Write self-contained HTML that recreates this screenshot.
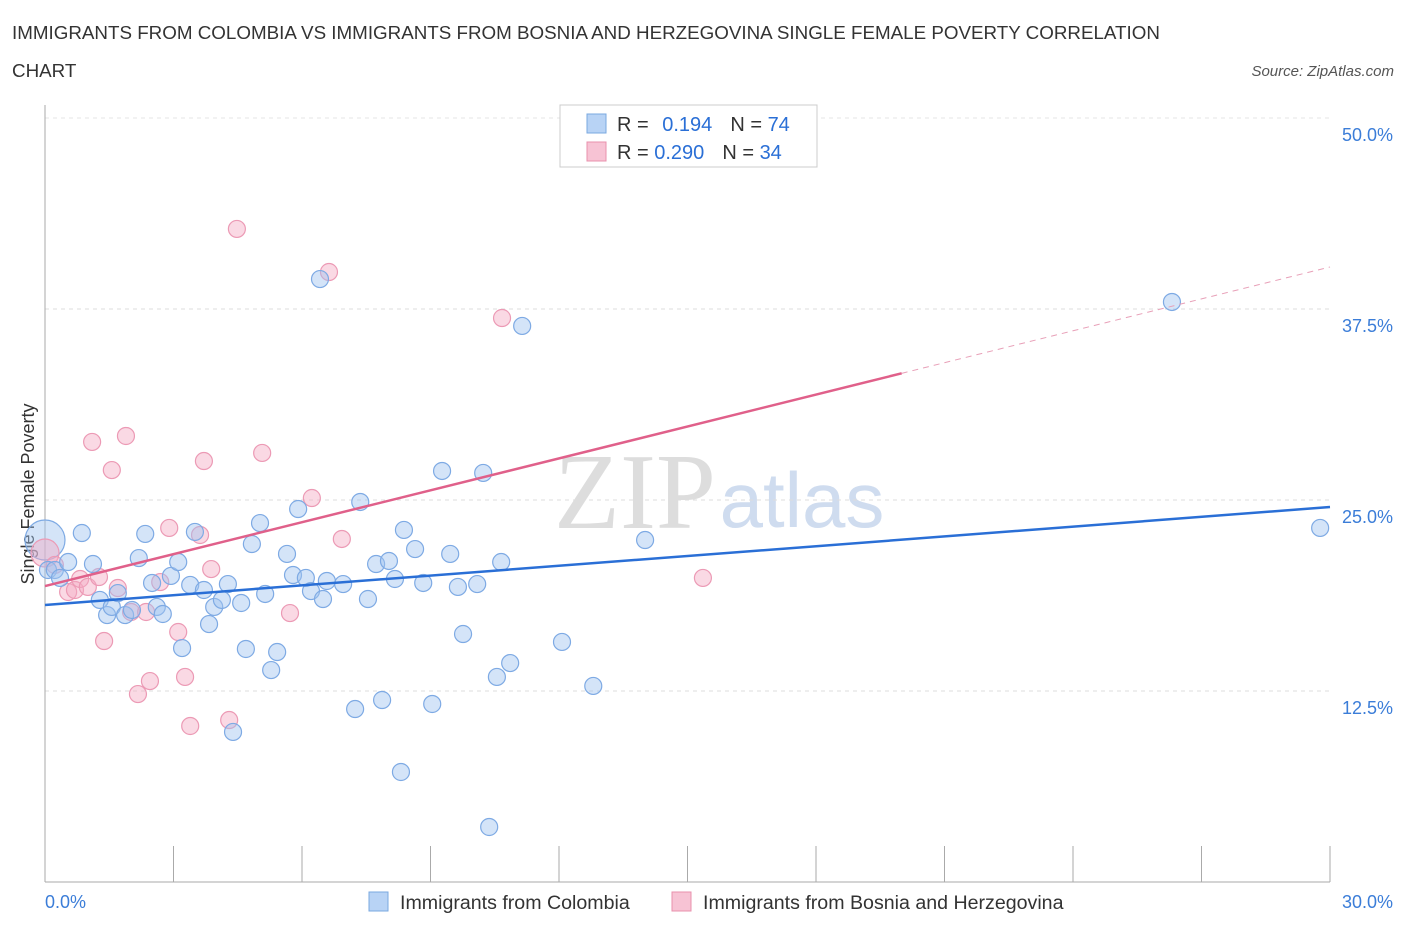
<!DOCTYPE html>
<html><head><meta charset="utf-8"><style>
body{margin:0;background:#fff;font-family:"Liberation Sans",sans-serif;}
</style></head><body>
<svg width="1406" height="930" viewBox="0 0 1406 930" id="chart" font-family="Liberation Sans, sans-serif">
<text x="12" y="39" font-size="18.8" fill="#333">IMMIGRANTS FROM COLOMBIA VS IMMIGRANTS FROM BOSNIA AND HERZEGOVINA SINGLE FEMALE POVERTY CORRELATION</text>
<text x="12" y="77" font-size="18.8" fill="#333">CHART</text>
<text x="1394" y="76" font-size="15" fill="#555" font-style="italic" text-anchor="end">Source: ZipAtlas.com</text>
<text x="635" y="528" font-size="108" fill="#ddd" style="font-family:'Liberation Serif',serif" text-anchor="middle">ZIP</text>
<text x="802" y="527" font-size="78" fill="#cfdcef" text-anchor="middle">atlas</text>
<text transform="translate(34,494) rotate(-90)" font-size="18" fill="#333" text-anchor="middle">Single Female Poverty</text>
<g id="grid"></g><g id="marks"></g>
<g>
<rect x="560" y="105" width="257" height="62" fill="#fff" stroke="#ccc"/>
<rect x="587" y="114" width="19" height="19" fill="#b8d3f5" stroke="#7aa8e0"/>
<rect x="587" y="142" width="19" height="19" fill="#f7c3d4" stroke="#e890ad"/>
<text x="617" y="131" font-size="20" fill="#333">R = <tspan fill="#2a6fd6" dx="8">0.194</tspan><tspan dx="18" fill="#333">N = </tspan><tspan fill="#2a6fd6">74</tspan></text>
<text x="617" y="159" font-size="20" fill="#333">R = <tspan fill="#2a6fd6">0.290</tspan><tspan dx="18" fill="#333">N = </tspan><tspan fill="#2a6fd6">34</tspan></text>
</g>
<g>
<rect x="369" y="892" width="19" height="19" fill="#b8d3f5" stroke="#7aa8e0"/>
<text x="400" y="909" font-size="19.6" fill="#333">Immigrants from Colombia</text>
<rect x="672" y="892" width="19" height="19" fill="#f7c3d4" stroke="#e890ad"/>
<text x="703" y="909" font-size="19.6" fill="#333">Immigrants from Bosnia and Herzegovina</text>
</g>
</svg>
<script>
const yTicks=[12.5,25,37.5,50];
const yTickLabels=["12.5%","25.0%","37.5%","50.0%"];
const xTickLabels=["0.0%","30.0%"];
const blueX=[0.07,0.23,0.35,0.54,0.86,1.12,1.28,1.45,1.56,1.70,1.87,2.03,2.19,2.34,2.50,2.61,2.75,2.94,3.11,3.20,3.39,3.50,3.71,3.83,3.95,4.13,4.27,4.39,4.58,4.69,4.83,5.02,5.14,5.28,5.42,5.65,5.79,5.91,6.09,6.21,6.42,6.49,6.58,6.96,7.24,7.36,7.54,7.73,7.87,8.03,8.17,8.31,8.38,8.64,8.83,9.04,9.27,9.46,9.64,9.76,10.09,10.23,10.37,10.55,10.65,10.86,11.14,12.07,12.80,14.01,26.31,29.77];
const blueY=[20.42,20.42,19.90,20.94,22.84,20.81,18.46,17.47,18.00,18.91,17.47,17.80,21.20,22.78,19.57,18.00,17.54,20.03,20.94,15.31,19.44,22.91,19.11,16.88,18.00,18.46,19.50,9.82,18.26,15.25,22.12,23.49,18.85,13.87,15.05,21.47,20.09,24.41,19.90,19.04,39.46,18.52,19.70,19.50,11.32,24.87,18.52,20.81,11.91,21.01,19.83,7.20,23.04,21.79,19.57,11.65,26.90,21.47,19.31,16.23,19.50,26.77,3.60,13.42,20.94,14.33,36.39,15.71,12.83,22.38,37.96,23.17];
const pinkX=[0.23,0.54,0.70,0.82,1.00,1.10,1.26,1.38,1.56,1.70,1.89,2.01,2.17,2.36,2.45,2.69,2.90,3.11,3.27,3.39,3.62,3.71,3.88,4.30,4.48,5.07,5.72,6.23,6.63,6.93,10.67,15.36];
const pinkY=[20.75,18.98,19.11,19.83,19.31,28.80,19.96,15.77,26.96,19.24,29.19,17.67,12.30,17.67,13.15,19.63,23.17,16.36,13.42,10.21,22.71,27.55,20.48,10.60,42.74,28.08,17.60,25.13,39.92,22.45,36.91,19.90];
const bigBlue=[0.0,22.38], bigPink=[0.0,21.53];
const blueTrend=[18.13,24.54], pinkTrend=[19.37,40.25];
const NS="http://www.w3.org/2000/svg";
const sx=v=>45+v/30*1285, sy=v=>882-v/12.5*191;
const grid=document.getElementById('grid'), marks=document.getElementById('marks');
function mk(p,tag,a){const e=document.createElementNS(NS,tag);for(const k in a)e.setAttribute(k,a[k]);p.appendChild(e);return e;}
yTicks.forEach((t,i)=>{
 const l=mk(grid,'line',{x1:45,x2:1330,y1:sy(t),y2:sy(t),stroke:'#ddd','stroke-dasharray':'4,4'});
 
 
 const tx=mk(grid,'text',{x:1393,y:sy(t)+23,'font-size':18,fill:'#3b7dd8','text-anchor':'end'});tx.textContent=yTickLabels[i];
 
 
});
mk(grid,'line',{x1:45,x2:1330,y1:118,y2:118,stroke:'#e6e6e6','stroke-dasharray':'4,4'});
const ax=mk(grid,'line',{x1:45,x2:45,y1:105,y2:882,stroke:'#aaa'});


const bx=mk(grid,'line',{x1:45,x2:1330,y1:882,y2:882,stroke:'#aaa'});


for(let i=0;i<=10;i++){const x=sx(i*3);const t=mk(grid,'line',{x1:x,x2:x,y1:i==0?882:846,y2:882,stroke:'#aaa'});
 
 }
[[0,45,'start'],[30,1393,'end']].forEach((d,i)=>{const t=mk(grid,'text',{x:d[1],y:908,'font-size':18,fill:'#3b7dd8','text-anchor':d[2]});t.textContent=xTickLabels[i];
 
 });
function dot(x,y,r,c){const e=mk(marks,'circle',{cx:sx(x),cy:sy(y),r:r,fill:c=='b'?'rgba(160,196,240,0.45)':'rgba(244,170,196,0.45)',stroke:c=='b'?'#7eaae4':'#ec9ab5','stroke-width':1.2});
 
 }
dot(bigBlue[0],bigBlue[1],20,'b');dot(bigPink[0],bigPink[1],14,'p');
pinkX.forEach((x,i)=>dot(x,pinkY[i],8.5,'p'));
blueX.forEach((x,i)=>dot(x,blueY[i],8.5,'b'));
const ps=pinkTrend[0]+(pinkTrend[1]-pinkTrend[0])*20/30;
const pl=mk(marks,'line',{x1:sx(0),y1:sy(pinkTrend[0]),x2:sx(20),y2:sy(ps),stroke:'#e0608a','stroke-width':2.5});


const pd=mk(marks,'line',{x1:sx(20),y1:sy(ps),x2:sx(30),y2:sy(pinkTrend[1]),stroke:'#e8a0b8','stroke-width':1,'stroke-dasharray':'6,5'});


const bl=mk(marks,'line',{x1:sx(0),y1:sy(blueTrend[0]),x2:sx(30),y2:sy(blueTrend[1]),stroke:'#2a6fd6','stroke-width':2.5});


</script>
</body></html>
